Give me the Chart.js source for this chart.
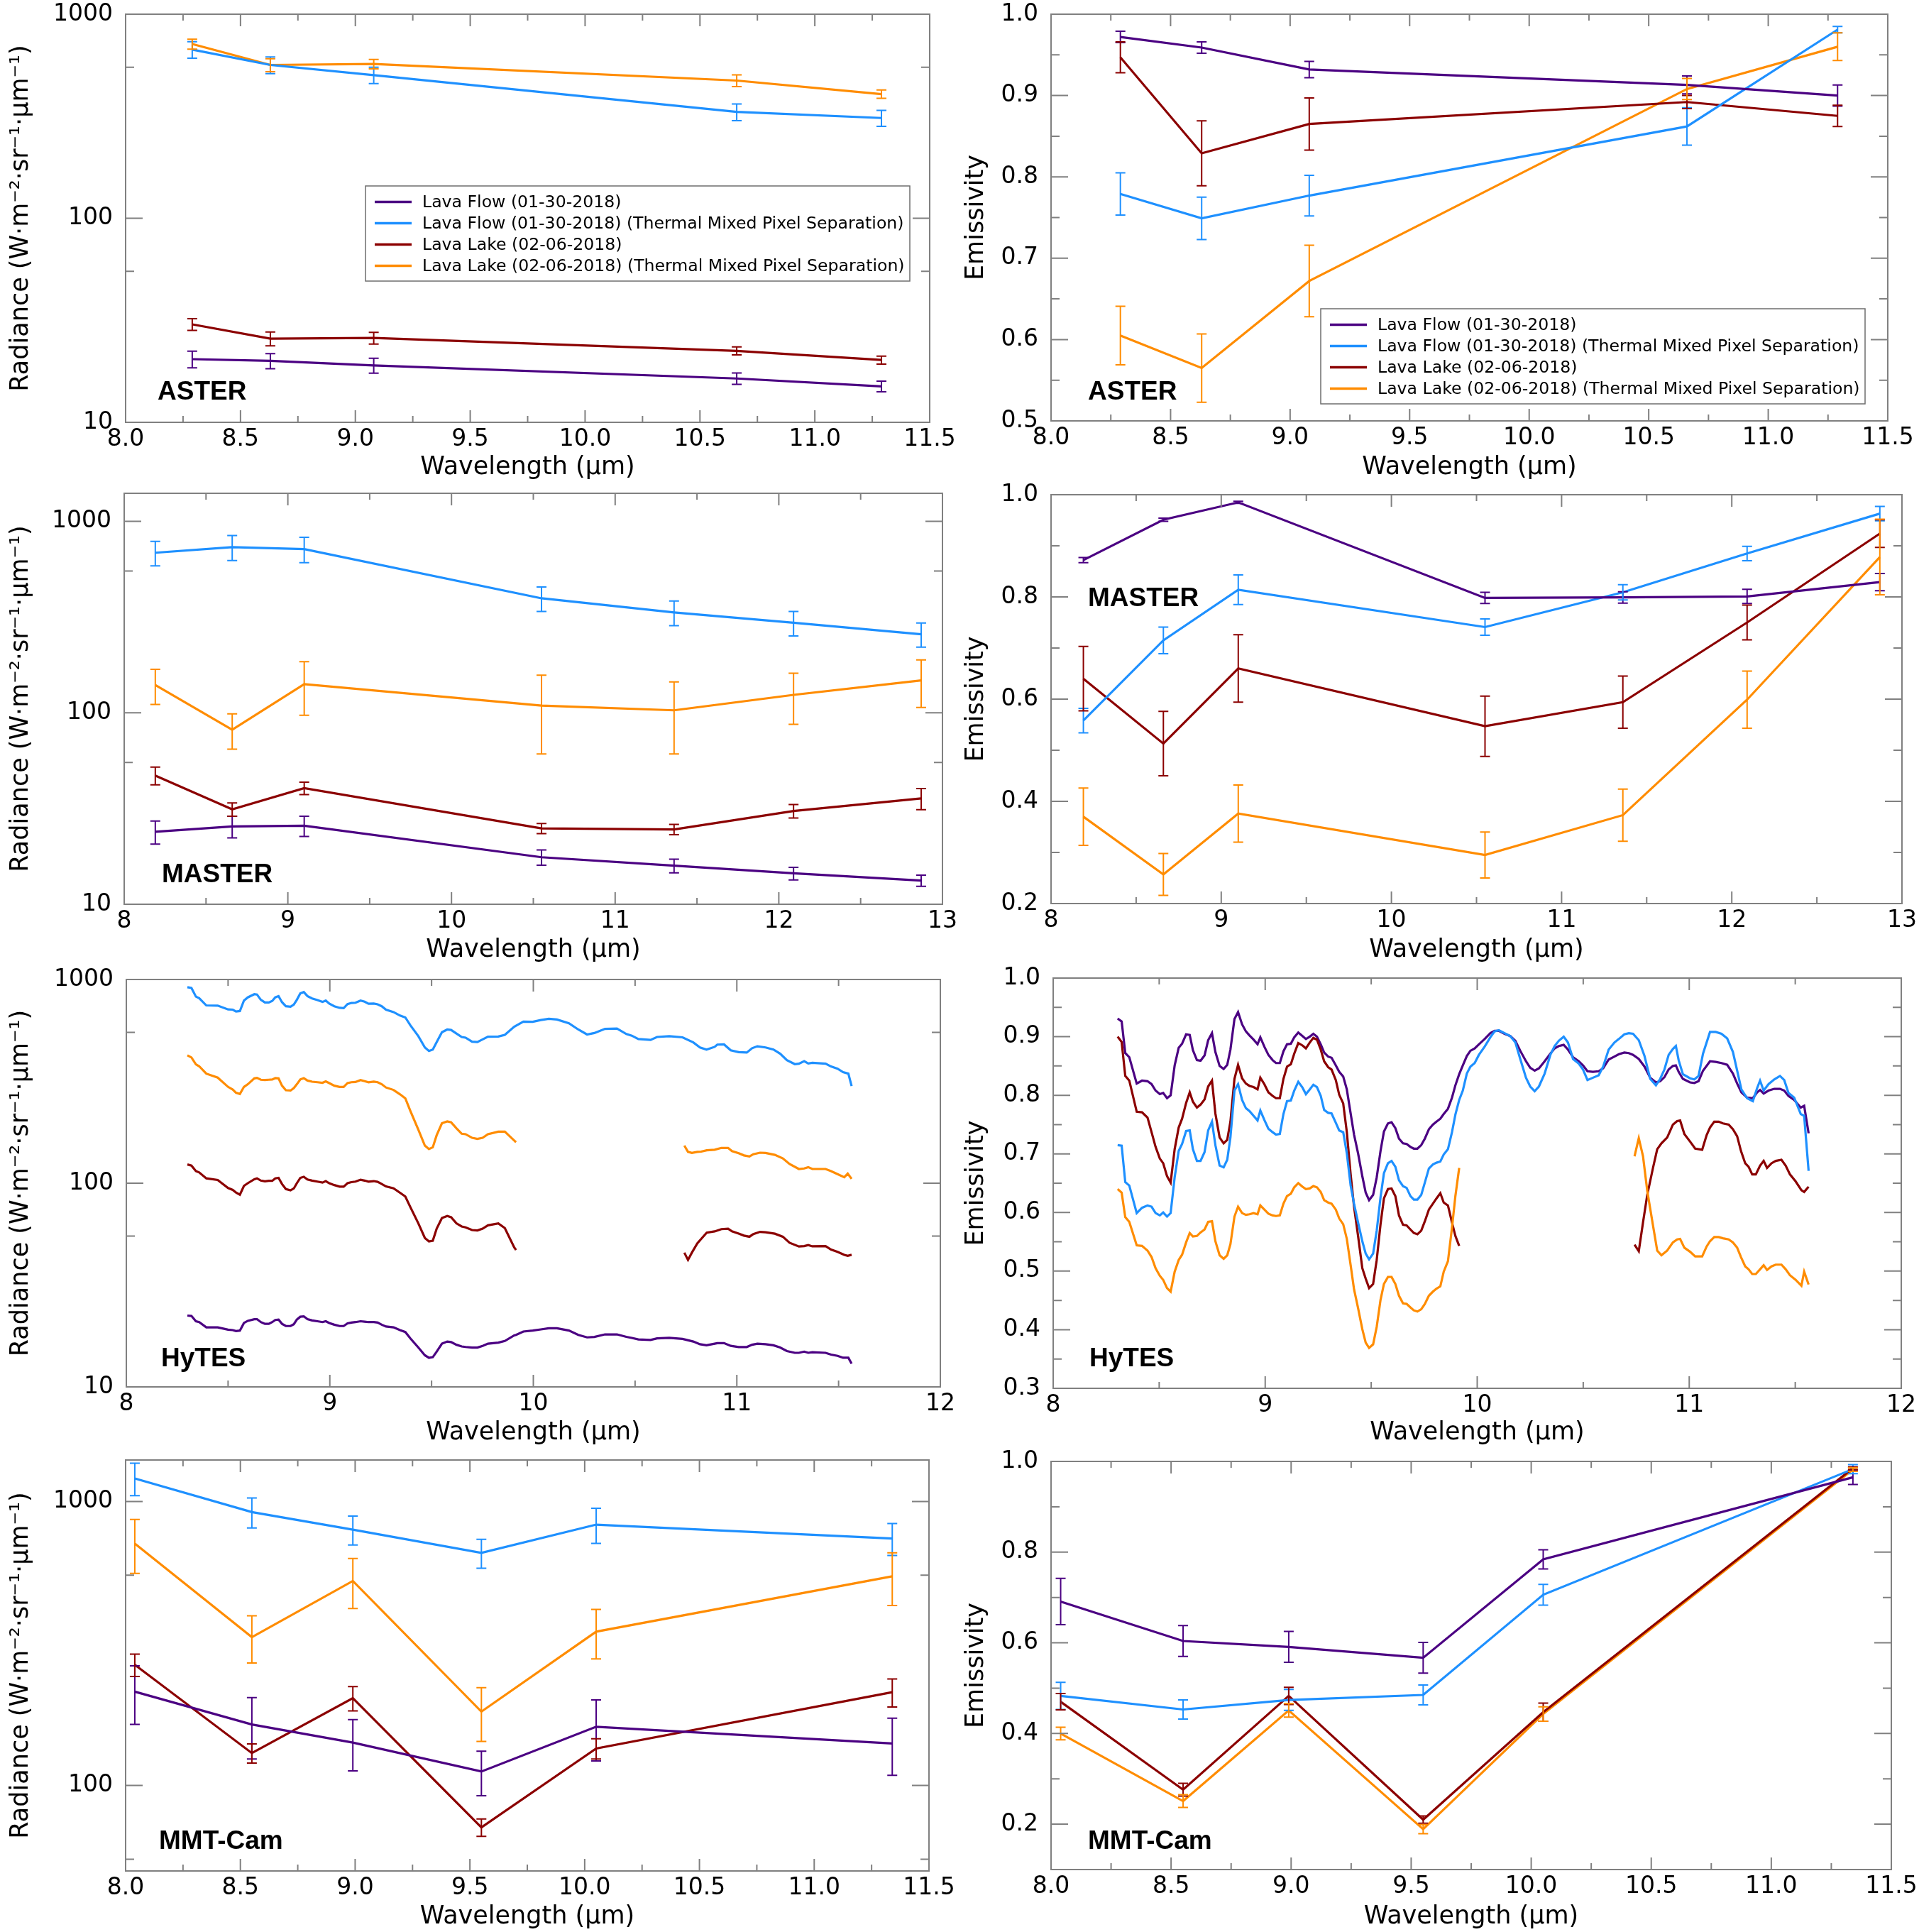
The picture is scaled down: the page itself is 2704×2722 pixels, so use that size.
<!DOCTYPE html>
<html>
<head>
<meta charset="utf-8">
<script src="https://cdn.jsdelivr.net/npm/chart.js@4.4.0/dist/chart.umd.min.js"></script>
<style>
  html, body { margin: 0; padding: 0; background: #fff; }
  #page { position: relative; width: 2704px; height: 2722px; background: #fff; }
  #page canvas { position: absolute; }
</style>
</head>
<body>
<div id="page"></div>
<script>
// ---- series names / colours ----
const seriesNames = [
  "Lava Flow (01-30-2018)",
  "Lava Flow (01-30-2018) (Thermal Mixed Pixel Separation)",
  "Lava Lake (02-06-2018)",
  "Lava Lake (02-06-2018) (Thermal Mixed Pixel Separation)"
];
const seriesColors = ["#4b0082", "#1e90ff", "#8b0000", "#ff8c00"];

// ---- ASTER ----
const asterWl = [8.29, 8.63, 9.08, 10.66, 11.29];
const asterRadFlow = [20.4, 20.0, 19.0, 16.4, 15.0];
const asterRadFlowErr = [1.9, 1.7, 1.6, 1.05, 0.9];
const asterRadFlowTmps = [671, 564, 503, 332, 310];
const asterRadFlowTmpsErr = [62, 53, 46, 31, 28];
const asterRadLake = [30.2, 25.7, 25.9, 22.4, 20.2];
const asterRadLakeErr = [2.0, 2.0, 1.7, 1.0, 0.9];
const asterRadLakeTmps = [714, 564, 570, 473, 406];
const asterRadLakeTmpsErr = [40, 41, 30, 31, 19];
const asterEmFlow = [0.972, 0.959, 0.932, 0.913, 0.900];
const asterEmFlowErr = [0.007, 0.007, 0.010, 0.011, 0.013];
const asterEmFlowTmps = [0.779, 0.749, 0.777, 0.862, 0.981];
const asterEmFlowTmpsErr = [0.026, 0.026, 0.025, 0.023, 0.004];
const asterEmLake = [0.947, 0.829, 0.865, 0.892, 0.875];
const asterEmLakeErr = [0.019, 0.040, 0.032, 0.008, 0.013];
const asterEmLakeTmps = [0.605, 0.565, 0.672, 0.908, 0.960];
const asterEmLakeTmpsErr = [0.036, 0.042, 0.044, 0.013, 0.017];

// ---- MASTER ----
const masterWl = [8.19, 8.66, 9.10, 10.55, 11.36, 12.09, 12.87];
const masterRadFlow = [23.9, 25.5, 25.7, 17.6, 15.9, 14.5, 13.3];
const masterRadFlowErr = [3.3, 3.3, 3.1, 1.6, 1.3, 1.1, 0.9];
const masterRadFlowTmps = [685, 733, 716, 396, 334, 295, 257];
const masterRadFlowTmpsErr = [100, 110, 108, 58, 49, 43, 37];
const masterRadLake = [47.0, 31.3, 40.4, 24.9, 24.6, 30.7, 35.7];
const masterRadLakeErr = [5, 2.5, 3, 1.5, 1.5, 2.5, 4.5];
const masterRadLakeTmps = [139.6, 81.6, 141, 109, 103, 124, 147.6];
const masterRadLakeTmpsErr = [29, 17, 44, 48, 42, 37, 41];
const masterEmFlow = [0.872, 0.951, 0.985, 0.798, 0.799, 0.801, 0.829];
const masterEmFlowErr = [0.005, 0.003, 0.002, 0.011, 0.011, 0.014, 0.017];
const masterEmFlowTmps = [0.558, 0.715, 0.814, 0.741, 0.809, 0.885, 0.963];
const masterEmFlowTmpsErr = [0.024, 0.026, 0.029, 0.016, 0.015, 0.014, 0.014];
const masterEmLake = [0.640, 0.513, 0.660, 0.547, 0.594, 0.750, 0.924];
const masterEmLakeErr = [0.063, 0.063, 0.066, 0.059, 0.051, 0.034, 0.027];
const masterEmLakeTmps = [0.370, 0.257, 0.376, 0.295, 0.373, 0.599, 0.878];
const masterEmLakeTmpsErr = [0.056, 0.041, 0.056, 0.045, 0.051, 0.056, 0.074];

// ---- MMT-Cam ----
const mmtWl = [8.04, 8.55, 8.99, 9.55, 10.05, 11.34];
const mmtRadFlow = [214, 164, 141.6, 112, 161, 140.6];
const mmtRadFlowErr = [50, 40, 29, 20, 39, 32];
const mmtRadFlowTmps = [1206, 918, 796, 659, 829, 741];
const mmtRadFlowTmpsErr = [158, 111, 93, 77, 117, 95];
const mmtRadLake = [266, 130, 203, 71.2, 135, 213];
const mmtRadLakeErr = [24, 10, 20, 5, 11, 24];
const mmtRadLakeTmps = [711, 333, 525, 182, 348, 545];
const mmtRadLakeTmpsErr = [153, 63, 105, 39, 69, 115];
const mmtEmFlow = [0.691, 0.604, 0.591, 0.567, 0.784, 0.965];
const mmtEmFlowErr = [0.051, 0.034, 0.034, 0.034, 0.021, 0.016];
const mmtEmFlowTmps = [0.483, 0.453, 0.474, 0.485, 0.706, 0.983];
const mmtEmFlowTmpsErr = [0.030, 0.021, 0.023, 0.022, 0.023, 0.010];
const mmtEmLake = [0.470, 0.276, 0.483, 0.210, 0.447, 0.985];
const mmtEmLakeErr = [0.018, 0.014, 0.019, 0.008, 0.020, 0.003];
const mmtEmLakeTmps = [0.400, 0.251, 0.451, 0.189, 0.443, 0.982];
const mmtEmLakeTmpsErr = [0.014, 0.014, 0.015, 0.010, 0.016, 0.004];

// ---- HyTES radiance ----
const hytesRadWlA = [8.300, 8.320, 8.342, 8.358, 8.393, 8.449, 8.500, 8.523, 8.539, 8.558,
  8.578, 8.597, 8.629, 8.642, 8.661, 8.681, 8.700, 8.717, 8.732, 8.748,
  8.765, 8.784, 8.807, 8.823, 8.838, 8.855, 8.872, 8.890, 8.913, 8.939,
  8.964, 8.980, 8.997, 9.022, 9.048, 9.068, 9.087, 9.106, 9.126, 9.151,
  9.171, 9.190, 9.216, 9.235, 9.255, 9.276, 9.313, 9.345, 9.371, 9.396,
  9.435, 9.467, 9.487, 9.506, 9.525, 9.551, 9.577, 9.596, 9.622, 9.648,
  9.667, 9.699, 9.725, 9.751, 9.777, 9.828, 9.860, 9.906, 9.915];
const hytesRadWlB = [9.951, 9.997, 10.037, 10.076, 10.116, 10.175, 10.221, 10.264, 10.300, 10.352,
  10.411, 10.457, 10.484, 10.516, 10.576, 10.608, 10.668, 10.733, 10.786, 10.819,
  10.851, 10.891, 10.904, 10.937, 10.970, 11.009, 11.049, 11.075, 11.101, 11.141,
  11.180, 11.213, 11.246, 11.285, 11.305, 11.331, 11.351, 11.371, 11.436, 11.463,
  11.495, 11.522, 11.548, 11.564];
const hytesRadWlC = [10.742, 10.760, 10.779, 10.806, 10.825, 10.852, 10.891, 10.924, 10.957, 10.976,
  11.009, 11.035, 11.062, 11.081, 11.114, 11.141, 11.187, 11.226, 11.259, 11.305,
  11.331, 11.351, 11.371, 11.436, 11.463, 11.495, 11.528, 11.545, 11.564];
const hytesRadFlowA = [22.4, 22.3, 21.0, 20.8, 19.6, 19.6, 19.1, 19.0, 18.8, 18.9,
  20.6, 21.1, 21.5, 21.5, 20.8, 20.4, 20.4, 20.8, 21.3, 21.4,
  20.4, 19.9, 19.9, 20.3, 21.4, 22.1, 22.2, 21.5, 21.2, 21.0,
  20.8, 21.0, 20.6, 20.2, 19.9, 19.9, 20.5, 20.7, 20.8, 21.0,
  20.9, 20.8, 20.8, 20.7, 20.2, 19.8, 19.6, 19.0, 18.6, 17.3,
  15.6, 14.3, 13.9, 14.0, 14.9, 16.3, 16.7, 16.6, 16.1, 15.8,
  15.7, 15.6, 15.6, 15.9, 16.3, 16.5, 16.8, 17.9, 18.0];
const hytesRadFlowB = [18.7, 18.9, 19.15, 19.4, 19.4, 18.9, 18.0, 17.5, 17.6, 18.1,
  18.1, 17.6, 17.4, 17.1, 17.0, 17.3, 17.4, 17.2, 16.7, 16.2,
  16.0, 16.3, 16.4, 16.4, 15.9, 15.7, 15.7, 16.1, 16.3, 16.2,
  16.0, 15.6, 15.0, 14.7, 14.7, 14.9, 14.7, 14.8, 14.7, 14.4,
  14.2, 13.9, 13.9, 13.0];
const hytesRadFlowTmpsA = [916, 908, 824, 809, 746, 744, 713, 711, 696, 700,
  788, 817, 847, 844, 795, 771, 771, 785, 817, 829,
  774, 739, 735, 753, 795, 855, 868, 829, 807, 792,
  776, 788, 762, 739, 726, 724, 757, 767, 769, 788,
  778, 760, 762, 755, 739, 711, 692, 665, 651, 595,
  527, 464, 446, 453, 493, 551, 568, 565, 543, 522,
  518, 495, 493, 508, 524, 525, 535, 586, 593];
const hytesRadFlowTmpsB = [621, 620, 632, 641, 636, 610, 568, 537, 546, 572,
  574, 540, 530, 510, 505, 522, 527, 520, 491, 464,
  453, 467, 479, 480, 449, 440, 438, 460, 470, 464,
  453, 432, 402, 384, 386, 397, 387, 390, 386, 374,
  365, 351, 345, 300];
const hytesRadLakeA = [123.6, 122, 114.6, 112.9, 105.6, 103.7, 94.7, 92.7, 89.9, 87.8,
  97, 100, 104.6, 105.6, 103, 102.1, 102.7, 102.7, 105.6, 106.2,
  99.1, 93.6, 92.2, 94.2, 100, 106.2, 107.5, 104.3, 103, 101.8,
  100.7, 102.4, 100, 97.9, 96.2, 96.2, 100, 101.2, 101.8, 104,
  103, 101.8, 102.4, 101.5, 99.1, 96.4, 94.4, 89.7, 86, 76.2,
  63.5, 53.8, 51.8, 52.2, 59.8, 67.5, 69, 68.1, 63.5, 61.3,
  60.7, 58.9, 58.6, 59.8, 62.1, 63.5, 60.2, 48.4, 47];
const hytesRadLakeC = [45.6, 42.0, 45.6, 50.7, 53.3, 57.2, 58.0, 59.5, 59.8, 58.0,
  56.6, 55.3, 54.6, 56.3, 57.7, 57.4, 56.5, 54.6, 51.0, 48.9,
  49.1, 49.7, 49.0, 49.1, 47.2, 46.0, 44.5, 44.0, 44.5];
const hytesRadLakeTmpsA = [424, 414, 383, 375, 345, 330, 297, 288, 278, 274,
  297, 306, 327, 329, 322, 321, 322, 323, 328, 327,
  301, 286, 285, 293, 306, 323, 328, 319, 315, 313,
  311, 316, 310, 301, 297, 297, 310, 313, 314, 321,
  317, 313, 315, 313, 306, 295, 287, 273, 261, 226,
  183, 153, 147, 150, 172, 197, 201, 199, 186, 175,
  174, 167, 165, 167, 174, 179, 179, 162, 159];
const hytesRadLakeTmpsC = [153, 142.5, 140.8, 142.5, 142.9, 145, 145.9, 149, 149, 143.7,
  140.3, 136.9, 135.3, 138.7, 141.2, 140.8, 137.7, 132.4, 124.3, 117.4,
  118.1, 119.9, 117.4, 117.4, 114.6, 110.8, 106.9, 111.4, 105];

// ---- HyTES emissivity ----
const hytesEmWlA = [8.304, 8.323, 8.340, 8.359, 8.394, 8.419, 8.445, 8.464, 8.483, 8.503,
  8.519, 8.537, 8.554, 8.573, 8.592, 8.608, 8.627, 8.644, 8.659, 8.678,
  8.695, 8.714, 8.731, 8.749, 8.765, 8.785, 8.804, 8.821, 8.836, 8.855,
  8.872, 8.891, 8.909, 8.926, 8.945, 8.964, 8.977, 8.996, 9.015, 9.035,
  9.051, 9.069, 9.086, 9.103, 9.121, 9.137, 9.156, 9.176, 9.192, 9.210,
  9.227, 9.244, 9.262, 9.278, 9.297, 9.313, 9.333, 9.349, 9.368, 9.385,
  9.403, 9.419, 9.438, 9.458, 9.474, 9.490, 9.509, 9.526, 9.544, 9.560,
  9.579, 9.596, 9.614, 9.631, 9.650, 9.667, 9.685, 9.701, 9.718, 9.736,
  9.753, 9.772, 9.791, 9.808, 9.826, 9.842, 9.862, 9.881, 9.897, 9.915];
const hytesEmWlB = [9.932, 9.951, 9.968, 9.988, 10.008, 10.035, 10.062, 10.082, 10.102, 10.129,
  10.156, 10.180, 10.203, 10.230, 10.250, 10.271, 10.291, 10.318, 10.345, 10.365,
  10.385, 10.408, 10.428, 10.452, 10.479, 10.499, 10.520, 10.546, 10.573, 10.594,
  10.620, 10.647, 10.668, 10.694, 10.715, 10.735, 10.762, 10.789, 10.816, 10.843,
  10.863, 10.883, 10.903, 10.923, 10.937, 10.950, 10.970, 11.004, 11.024, 11.044,
  11.065, 11.098, 11.125, 11.152, 11.179, 11.206, 11.226, 11.246, 11.273, 11.300,
  11.320, 11.334, 11.351, 11.374, 11.401, 11.428, 11.448, 11.468, 11.495, 11.526,
  11.542, 11.563];
const hytesEmWlC = [10.742, 10.762, 10.782, 10.802, 10.829, 10.849, 10.869, 10.896, 10.923, 10.943,
  10.957, 10.977, 11.004, 11.028, 11.061, 11.082, 11.098, 11.118, 11.139, 11.159,
  11.186, 11.206, 11.226, 11.244, 11.264, 11.280, 11.297, 11.314, 11.334, 11.351,
  11.367, 11.388, 11.408, 11.435, 11.455, 11.475, 11.502, 11.529, 11.542, 11.563];
const hytesEmFlowA = [0.931, 0.926, 0.872, 0.865, 0.820, 0.825, 0.824, 0.819, 0.808, 0.802,
  0.804, 0.795, 0.800, 0.851, 0.881, 0.888, 0.904, 0.903, 0.877, 0.860,
  0.859, 0.868, 0.894, 0.906, 0.874, 0.850, 0.845, 0.852, 0.878, 0.930,
  0.942, 0.921, 0.909, 0.902, 0.895, 0.887, 0.899, 0.883, 0.869, 0.860,
  0.855, 0.855, 0.875, 0.887, 0.888, 0.899, 0.907, 0.901, 0.896, 0.900,
  0.905, 0.900, 0.887, 0.873, 0.866, 0.864, 0.851, 0.840, 0.832, 0.810,
  0.769, 0.733, 0.701, 0.662, 0.634, 0.621, 0.630, 0.660, 0.705, 0.738,
  0.752, 0.754, 0.744, 0.726, 0.718, 0.717, 0.712, 0.709, 0.709, 0.715,
  0.726, 0.742, 0.750, 0.755, 0.760, 0.768, 0.777, 0.796, 0.817, 0.836];
const hytesEmFlowB = [0.851, 0.867, 0.876, 0.880, 0.887, 0.896, 0.906, 0.910, 0.910, 0.905,
  0.901, 0.893, 0.876, 0.858, 0.847, 0.842, 0.846, 0.858, 0.871, 0.880,
  0.884, 0.886, 0.878, 0.865, 0.858, 0.851, 0.841, 0.840, 0.841, 0.846,
  0.861, 0.866, 0.870, 0.873, 0.872, 0.869, 0.862, 0.849, 0.830, 0.822,
  0.824, 0.831, 0.844, 0.850, 0.851, 0.840, 0.828, 0.822, 0.821, 0.824,
  0.842, 0.858, 0.857, 0.855, 0.852, 0.837, 0.820, 0.805, 0.796, 0.795,
  0.805, 0.809, 0.803, 0.808, 0.811, 0.811, 0.808, 0.799, 0.792, 0.779,
  0.782, 0.735];
const hytesEmFlowTmpsA = [0.715, 0.714, 0.652, 0.646, 0.599, 0.608, 0.612, 0.610, 0.599, 0.595,
  0.600, 0.593, 0.599, 0.660, 0.705, 0.717, 0.739, 0.740, 0.708, 0.688,
  0.688, 0.703, 0.740, 0.755, 0.715, 0.680, 0.677, 0.690, 0.728, 0.808,
  0.819, 0.792, 0.778, 0.773, 0.765, 0.757, 0.774, 0.758, 0.743, 0.737,
  0.733, 0.734, 0.768, 0.790, 0.791, 0.808, 0.823, 0.813, 0.802, 0.810,
  0.818, 0.814, 0.799, 0.775, 0.770, 0.769, 0.753, 0.740, 0.737, 0.701,
  0.646, 0.615, 0.583, 0.551, 0.530, 0.520, 0.530, 0.569, 0.626, 0.667,
  0.684, 0.688, 0.678, 0.655, 0.645, 0.642, 0.628, 0.622, 0.622, 0.630,
  0.651, 0.675, 0.682, 0.685, 0.687, 0.699, 0.708, 0.737, 0.767, 0.792];
const hytesEmFlowTmpsB = [0.808, 0.837, 0.849, 0.855, 0.869, 0.883, 0.899, 0.909, 0.911, 0.906,
  0.901, 0.890, 0.862, 0.830, 0.815, 0.807, 0.815, 0.837, 0.869, 0.884,
  0.893, 0.900, 0.890, 0.862, 0.854, 0.844, 0.826, 0.830, 0.834, 0.849,
  0.878, 0.890, 0.896, 0.904, 0.906, 0.905, 0.894, 0.867, 0.828, 0.817,
  0.828, 0.844, 0.869, 0.879, 0.884, 0.860, 0.836, 0.829, 0.827, 0.833,
  0.871, 0.908, 0.908, 0.905, 0.897, 0.874, 0.842, 0.810, 0.795, 0.790,
  0.812, 0.825, 0.808, 0.819, 0.827, 0.833, 0.826, 0.804, 0.796, 0.768,
  0.765, 0.671];
const hytesEmLakeA = [0.900, 0.891, 0.833, 0.825, 0.772, 0.771, 0.762, 0.737, 0.712, 0.692,
  0.684, 0.662, 0.651, 0.708, 0.745, 0.760, 0.787, 0.805, 0.789, 0.779,
  0.784, 0.793, 0.815, 0.825, 0.769, 0.728, 0.718, 0.724, 0.755, 0.828,
  0.852, 0.829, 0.820, 0.816, 0.814, 0.810, 0.830, 0.819, 0.805, 0.799,
  0.795, 0.795, 0.828, 0.849, 0.853, 0.871, 0.889, 0.885, 0.880, 0.890,
  0.898, 0.895, 0.878, 0.858, 0.848, 0.844, 0.826, 0.801, 0.786, 0.737,
  0.665, 0.610, 0.560, 0.505, 0.487, 0.471, 0.478, 0.519, 0.580, 0.624,
  0.640, 0.641, 0.628, 0.595, 0.579, 0.578, 0.571, 0.565, 0.563, 0.569,
  0.585, 0.605, 0.615, 0.624, 0.633, 0.617, 0.612, 0.583, 0.560, 0.543];
const hytesEmLakeC = [0.545, 0.534, 0.583, 0.630, 0.676, 0.708, 0.718, 0.728, 0.750, 0.756,
  0.757, 0.734, 0.721, 0.709, 0.707, 0.732, 0.745, 0.755, 0.755, 0.752,
  0.750, 0.742, 0.730, 0.705, 0.684, 0.678, 0.665, 0.665, 0.680, 0.688,
  0.676, 0.684, 0.688, 0.690, 0.680, 0.665, 0.653, 0.638, 0.635, 0.644];
const hytesEmLakeTmpsA = [0.640, 0.634, 0.592, 0.584, 0.544, 0.543, 0.535, 0.524, 0.505, 0.492,
  0.485, 0.471, 0.465, 0.499, 0.519, 0.528, 0.549, 0.565, 0.559, 0.560,
  0.566, 0.571, 0.584, 0.585, 0.551, 0.527, 0.521, 0.527, 0.546, 0.593,
  0.610, 0.599, 0.596, 0.597, 0.599, 0.597, 0.612, 0.605, 0.598, 0.595,
  0.594, 0.595, 0.615, 0.628, 0.632, 0.643, 0.650, 0.644, 0.640, 0.641,
  0.645, 0.643, 0.635, 0.621, 0.617, 0.615, 0.605, 0.590, 0.580, 0.555,
  0.510, 0.469, 0.437, 0.401, 0.378, 0.369, 0.375, 0.405, 0.451, 0.478,
  0.490, 0.490, 0.478, 0.458, 0.445, 0.444, 0.438, 0.433, 0.431, 0.435,
  0.444, 0.458, 0.465, 0.470, 0.474, 0.499, 0.517, 0.574, 0.628, 0.676];
const hytesEmLakeTmpsC = [0.696, 0.727, 0.696, 0.637, 0.578, 0.535, 0.527, 0.535, 0.549, 0.554,
  0.555, 0.540, 0.533, 0.525, 0.525, 0.542, 0.551, 0.558, 0.558, 0.556,
  0.554, 0.549, 0.540, 0.524, 0.508, 0.503, 0.495, 0.495, 0.503, 0.510,
  0.502, 0.508, 0.511, 0.511, 0.503, 0.493, 0.485, 0.475, 0.499, 0.477];

// ---- ticks ----
const halfStepTicks = [8.0, 8.5, 9.0, 9.5, 10.0, 10.5, 11.0, 11.5];
const halfStepMinor = [8.25, 8.75, 9.25, 9.75, 10.25, 10.75, 11.25];
const masterXTicks = [8, 9, 10, 11, 12, 13];
const masterXMinor = [8.5, 9.5, 10.5, 11.5, 12.5];
const hytesXTicks = [8, 9, 10, 11, 12];
const hytesXMinor = [8.5, 9.5, 10.5, 11.5];
const radYTicks = [10, 100, 1000];
const mmtRadYTicks = [100, 1000];
const radYMinor = [55, 550];
const asterEmYTicks = [0.5, 0.6, 0.7, 0.8, 0.9, 1.0];
const asterEmYMinor = [0.55, 0.65, 0.75, 0.85, 0.95];
const masterEmYTicks = [0.2, 0.4, 0.6, 0.8, 1.0];
const masterEmYMinor = [0.3, 0.5, 0.7, 0.9];
const hytesEmYTicks = [0.3, 0.4, 0.5, 0.6, 0.7, 0.8, 0.9, 1.0];
const hytesEmYMinor = [0.35, 0.45, 0.55, 0.65, 0.75, 0.85, 0.95];
const mmtEmYTicks = [0.2, 0.4, 0.6, 0.8, 1.0];
const mmtEmYMinor = [0.1, 0.3, 0.5, 0.7, 0.9];

const radTitle = "Radiance (W\u00b7m\u207b\u00b2\u00b7sr\u207b\u00b9\u00b7\u00b5m\u207b\u00b9)";
const emTitle = "Emissivity";
const FONT = "'DejaVu Sans'";

function line(k, wl, vals, errs) {
  return {
    label: seriesNames[k],
    data: wl.map((w, i) => ({ x: w, y: vals[i] })),
    errors: errs || null,
    borderColor: seriesColors[k],
    backgroundColor: seriesColors[k],
    borderWidth: 3.2,
    pointRadius: 0,
    tension: 0,
    fill: false
  };
}

// draws error bars from dataset.errors through the chart scales
const errorBarPlugin = {
  id: 'errorBars',
  afterDatasetsDraw(chart) {
    const { ctx, chartArea: a } = chart;
    const xs = chart.scales.x, ys = chart.scales.y;
    ctx.save();
    ctx.beginPath();
    ctx.rect(a.left, a.top, a.right - a.left, a.bottom - a.top);
    ctx.clip();
    chart.data.datasets.forEach(ds => {
      if (!ds.errors) return;
      ctx.strokeStyle = ds.borderColor;
      ctx.lineWidth = 2;
      ds.data.forEach((p, i) => {
        const e = ds.errors[i];
        const x = xs.getPixelForValue(p.x);
        const y0 = ys.getPixelForValue(p.y - e);
        const y1 = ys.getPixelForValue(p.y + e);
        ctx.beginPath();
        ctx.moveTo(x, y0); ctx.lineTo(x, y1);
        ctx.moveTo(x - 7, y0); ctx.lineTo(x + 7, y0);
        ctx.moveTo(x - 7, y1); ctx.lineTo(x + 7, y1);
        ctx.stroke();
      });
    });
    ctx.restore();
  }
};

// box, inward ticks on all four sides, sensor label, legend
const decorPlugin = {
  id: 'decor',
  afterDraw(chart, args, o) {
    const { ctx, chartArea: a } = chart;
    const xs = chart.scales.x, ys = chart.scales.y;
    ctx.save();
    ctx.strokeStyle = '#808080';
    ctx.lineWidth = 2;
    ctx.strokeRect(a.left, a.top, a.right - a.left, a.bottom - a.top);
    ctx.beginPath();
    const xt = (v, len) => {
      const x = xs.getPixelForValue(v);
      ctx.moveTo(x, a.bottom); ctx.lineTo(x, a.bottom - len);
      ctx.moveTo(x, a.top); ctx.lineTo(x, a.top + len);
    };
    const yt = (v, len) => {
      const y = ys.getPixelForValue(v);
      ctx.moveTo(a.left, y); ctx.lineTo(a.left + len, y);
      ctx.moveTo(a.right, y); ctx.lineTo(a.right - len, y);
    };
    o.xMajor.forEach(v => xt(v, 17));
    o.xMinor.forEach(v => xt(v, 9));
    o.yMajor.forEach(v => yt(v, 24));
    o.yMinor.forEach(v => yt(v, 12));
    ctx.stroke();

    ctx.fillStyle = '#000';
    ctx.font = "bold 37px 'Liberation Sans'";
    ctx.textBaseline = 'alphabetic';
    ctx.textAlign = 'left';
    ctx.fillText(o.label, o.labelPos[0], o.labelPos[1]);

    if (o.legend) {
      const bx = a.left + o.legend[0], by = a.top + o.legend[1];
      ctx.strokeStyle = '#6e6e6e';
      ctx.lineWidth = 1.5;
      ctx.strokeRect(bx, by, 767, 134);
      ctx.font = "23.6px " + FONT;
      ctx.textBaseline = 'middle';
      for (let k = 0; k < 4; k++) {
        const ry = by + 22.5 + k * 30;
        ctx.strokeStyle = seriesColors[k];
        ctx.lineWidth = 3.5;
        ctx.beginPath();
        ctx.moveTo(bx + 13, ry); ctx.lineTo(bx + 65, ry);
        ctx.stroke();
        ctx.fillStyle = '#000';
        ctx.fillText(seriesNames[k], bx + 80, ry + 1);
      }
    }
    ctx.restore();
  }
};

function makePanel(p) {
  const page = document.getElementById('page');
  const cv = document.createElement('canvas');
  const W = p.cell[2], H = p.cell[3];
  cv.width = W; cv.height = H;
  cv.style.left = p.cell[0] + 'px';
  cv.style.top = p.cell[1] + 'px';
  cv.style.width = W + 'px';
  cv.style.height = H + 'px';
  page.appendChild(cv);
  const [L, T, R, B] = p.plot;
  new Chart(cv, {
    type: 'line',
    data: { datasets: p.datasets },
    options: {
      responsive: false,
      animation: false,
      devicePixelRatio: 1,
      layout: { autoPadding: false, padding: { left: 0, top: T, right: W - R, bottom: 0 } },
      plugins: {
        legend: { display: false },
        tooltip: { enabled: false },
        decor: {
          xMajor: p.xTicks, xMinor: p.xMinor, yMajor: p.yTicks, yMinor: p.yMinor,
          label: p.label, labelPos: p.labelPos, legend: p.legend || null
        }
      },
      scales: {
        x: {
          type: 'linear', min: p.xMin, max: p.xMax,
          grid: { display: false, drawTicks: false },
          border: { display: false },
          afterBuildTicks: s => { s.ticks = p.xTicks.map(v => ({ value: v })); },
          afterFit: s => { s.height = H - B; s.paddingLeft = 0; s.paddingRight = 0; },
          ticks: {
            autoSkip: false, maxRotation: 0, padding: 5, color: '#000',
            font: { family: FONT, size: 33 },
            callback: v => p.xFmt(v)
          },
          title: {
            display: true, text: 'Wavelength (\u00b5m)', color: '#000',
            font: { family: FONT, size: 35 }, padding: { top: 0, bottom: 0 }
          }
        },
        y: {
          type: p.ylog ? 'logarithmic' : 'linear', min: p.yMin, max: p.yMax,
          grid: { display: false, drawTicks: false },
          border: { display: false },
          afterBuildTicks: s => { s.ticks = p.yTicks.map(v => ({ value: v })); },
          afterFit: s => { s.width = L; s.paddingTop = 0; s.paddingBottom = 0; },
          ticks: {
            autoSkip: false, padding: 18, color: '#000',
            font: { family: FONT, size: 33 },
            callback: v => p.yFmt(v)
          },
          title: {
            display: true, text: p.yTitle, color: '#000',
            font: { family: FONT, size: 35 }, padding: { top: p.yTitlePad, bottom: 0 }
          }
        }
      }
    },
    plugins: [errorBarPlugin, decorPlugin]
  });
}

const fix1 = v => v.toFixed(1);
const intFmt = v => String(Math.round(v));
const radFmt = v => String(v);

const panels = [
  { // ASTER radiance
    cell: [0, 0, 1352, 680], plot: [177, 20, 1310, 595],
    xMin: 8, xMax: 11.5, xTicks: halfStepTicks, xMinor: halfStepMinor, xFmt: fix1,
    ylog: true, yMin: 10, yMax: 1000, yTicks: radYTicks, yMinor: radYMinor, yFmt: radFmt,
    yTitle: radTitle, yTitlePad: 9, label: 'ASTER', labelPos: [222, 563], legend: [338, 242],
    datasets: [
      line(0, asterWl, asterRadFlow, asterRadFlowErr),
      line(1, asterWl, asterRadFlowTmps, asterRadFlowTmpsErr),
      line(2, asterWl, asterRadLake, asterRadLakeErr),
      line(3, asterWl, asterRadLakeTmps, asterRadLakeTmpsErr)
    ]
  },
  { // ASTER emissivity
    cell: [1352, 0, 1352, 680], plot: [129, 20, 1308, 593],
    xMin: 8, xMax: 11.5, xTicks: halfStepTicks, xMinor: halfStepMinor, xFmt: fix1,
    ylog: false, yMin: 0.5, yMax: 1.0, yTicks: asterEmYTicks, yMinor: asterEmYMinor, yFmt: fix1,
    yTitle: emTitle, yTitlePad: 3, label: 'ASTER', labelPos: [181, 563], legend: [380, 415],
    datasets: [
      line(0, asterWl, asterEmFlow, asterEmFlowErr),
      line(1, asterWl, asterEmFlowTmps, asterEmFlowTmpsErr),
      line(2, asterWl, asterEmLake, asterEmLakeErr),
      line(3, asterWl, asterEmLakeTmps, asterEmLakeTmpsErr)
    ]
  },
  { // MASTER radiance
    cell: [0, 680, 1352, 680], plot: [175, 15, 1328, 594],
    xMin: 8, xMax: 13, xTicks: masterXTicks, xMinor: masterXMinor, xFmt: intFmt,
    ylog: true, yMin: 10, yMax: 1400, yTicks: radYTicks, yMinor: radYMinor, yFmt: radFmt,
    yTitle: radTitle, yTitlePad: 9, label: 'MASTER', labelPos: [228, 563],
    datasets: [
      line(0, masterWl, masterRadFlow, masterRadFlowErr),
      line(1, masterWl, masterRadFlowTmps, masterRadFlowTmpsErr),
      line(2, masterWl, masterRadLake, masterRadLakeErr),
      line(3, masterWl, masterRadLakeTmps, masterRadLakeTmpsErr)
    ]
  },
  { // MASTER emissivity
    cell: [1352, 680, 1352, 680], plot: [129, 17, 1328, 593],
    xMin: 8, xMax: 13, xTicks: masterXTicks, xMinor: masterXMinor, xFmt: intFmt,
    ylog: false, yMin: 0.2, yMax: 1.0, yTicks: masterEmYTicks, yMinor: masterEmYMinor, yFmt: fix1,
    yTitle: emTitle, yTitlePad: 3, label: 'MASTER', labelPos: [181, 174],
    datasets: [
      line(0, masterWl, masterEmFlow, masterEmFlowErr),
      line(1, masterWl, masterEmFlowTmps, masterEmFlowTmpsErr),
      line(2, masterWl, masterEmLake, masterEmLakeErr),
      line(3, masterWl, masterEmLakeTmps, masterEmLakeTmpsErr)
    ]
  },
  { // HyTES radiance
    cell: [0, 1360, 1352, 680], plot: [178, 20, 1325, 594],
    xMin: 8, xMax: 12, xTicks: hytesXTicks, xMinor: hytesXMinor, xFmt: intFmt,
    ylog: true, yMin: 10, yMax: 1000, yTicks: radYTicks, yMinor: radYMinor, yFmt: radFmt,
    yTitle: radTitle, yTitlePad: 9, label: 'HyTES', labelPos: [227, 565],
    datasets: [
      line(0, hytesRadWlA.concat(hytesRadWlB), hytesRadFlowA.concat(hytesRadFlowB)),
      line(1, hytesRadWlA.concat(hytesRadWlB), hytesRadFlowTmpsA.concat(hytesRadFlowTmpsB)),
      line(2, hytesRadWlA, hytesRadLakeA),
      line(2, hytesRadWlC, hytesRadLakeC),
      line(3, hytesRadWlA, hytesRadLakeTmpsA),
      line(3, hytesRadWlC, hytesRadLakeTmpsC)
    ]
  },
  { // HyTES emissivity
    cell: [1352, 1360, 1352, 680], plot: [132, 18, 1327, 596],
    xMin: 8, xMax: 12, xTicks: hytesXTicks, xMinor: hytesXMinor, xFmt: intFmt,
    ylog: false, yMin: 0.3, yMax: 1.0, yTicks: hytesEmYTicks, yMinor: hytesEmYMinor, yFmt: fix1,
    yTitle: emTitle, yTitlePad: 3, label: 'HyTES', labelPos: [183, 565],
    datasets: [
      line(3, hytesEmWlA, hytesEmLakeTmpsA),
      line(3, hytesEmWlC, hytesEmLakeTmpsC),
      line(1, hytesEmWlA.concat(hytesEmWlB), hytesEmFlowTmpsA.concat(hytesEmFlowTmpsB)),
      line(2, hytesEmWlA, hytesEmLakeA),
      line(2, hytesEmWlC, hytesEmLakeC),
      line(0, hytesEmWlA.concat(hytesEmWlB), hytesEmFlowA.concat(hytesEmFlowB))
    ]
  },
  { // MMT-Cam radiance
    cell: [0, 2040, 1352, 682], plot: [177, 17, 1309, 596],
    xMin: 8, xMax: 11.5, xTicks: halfStepTicks, xMinor: halfStepMinor, xFmt: fix1,
    ylog: true, yMin: 50, yMax: 1400, yTicks: mmtRadYTicks, yMinor: radYMinor, yFmt: radFmt,
    yTitle: radTitle, yTitlePad: 9, label: 'MMT-Cam', labelPos: [224, 565],
    datasets: [
      line(0, mmtWl, mmtRadFlow, mmtRadFlowErr),
      line(1, mmtWl, mmtRadFlowTmps, mmtRadFlowTmpsErr),
      line(2, mmtWl, mmtRadLake, mmtRadLakeErr),
      line(3, mmtWl, mmtRadLakeTmps, mmtRadLakeTmpsErr)
    ]
  },
  { // MMT-Cam emissivity
    cell: [1352, 2040, 1352, 682], plot: [129, 19, 1313, 594],
    xMin: 8, xMax: 11.5, xTicks: halfStepTicks, xMinor: halfStepMinor, xFmt: fix1,
    ylog: false, yMin: 0.1, yMax: 1.0, yTicks: mmtEmYTicks, yMinor: mmtEmYMinor, yFmt: fix1,
    yTitle: emTitle, yTitlePad: 3, label: 'MMT-Cam', labelPos: [181, 565],
    datasets: [
      line(0, mmtWl, mmtEmFlow, mmtEmFlowErr),
      line(1, mmtWl, mmtEmFlowTmps, mmtEmFlowTmpsErr),
      line(2, mmtWl, mmtEmLake, mmtEmLakeErr),
      line(3, mmtWl, mmtEmLakeTmps, mmtEmLakeTmpsErr)
    ]
  }
];

panels.forEach(makePanel);
</script>
</body>
</html>
